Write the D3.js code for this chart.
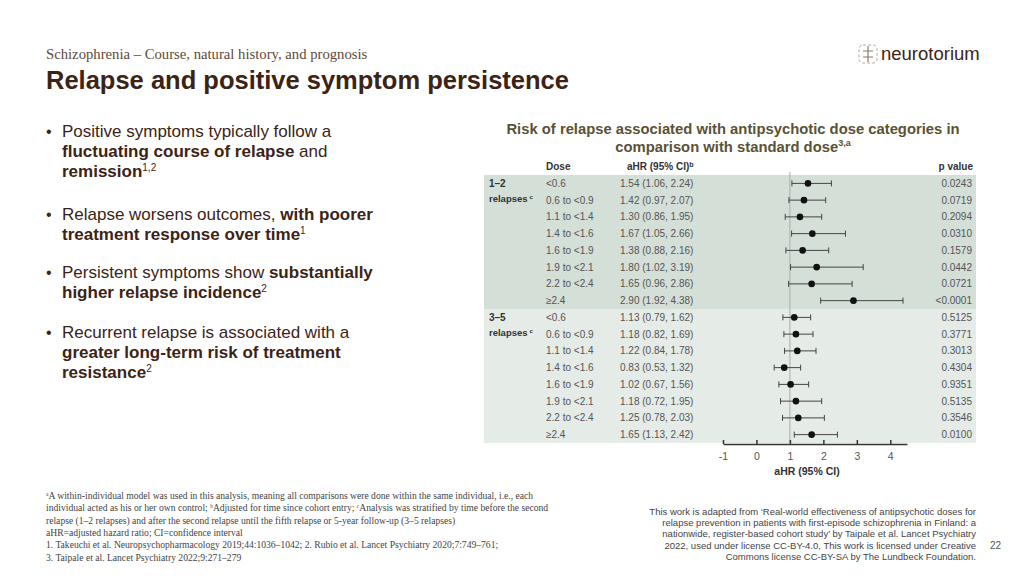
<!DOCTYPE html>
<html lang="en">
<head>
<meta charset="UTF-8">
<title>Relapse and positive symptom persistence</title>
<script src="https://d3js.org/d3.v7.min.js"></script>
<style>
  html, body { margin: 0; padding: 0; background: #fff; }
  body { width: 1024px; height: 576px; overflow: hidden; font-family: "Liberation Sans", Arial, sans-serif; }
  svg text { font-family: "Liberation Sans", Arial, sans-serif; }
  svg text.serif { font-family: "Liberation Serif", "Times New Roman", serif; }
</style>
</head>
<body>
<div id="slide"></div>
<script>
// dose categories (same for both strata)
const doses = ["<0.6", "0.6 to <0.9", "1.1 to <1.4", "1.4 to <1.6", "1.6 to <1.9", "1.9 to <2.1", "2.2 to <2.4", "\u22652.4"];
const groups = ["1\u20132", "3\u20135"];

// 1-2 relapses
const hr1 = [1.54, 1.42, 1.30, 1.67, 1.38, 1.80, 1.65, 2.90];
const lo1 = [1.06, 0.97, 0.86, 1.05, 0.88, 1.02, 0.96, 1.92];
const hi1 = [2.24, 2.07, 1.95, 2.66, 2.16, 3.19, 2.86, 4.38];
const p1 = ["0.0243", "0.0719", "0.2094", "0.0310", "0.1579", "0.0442", "0.0721", "<0.0001"];

// 3-5 relapses
const hr2 = [1.13, 1.18, 1.22, 0.83, 1.02, 1.18, 1.25, 1.65];
const lo2 = [0.79, 0.82, 0.84, 0.53, 0.67, 0.72, 0.78, 1.13];
const hi2 = [1.62, 1.69, 1.78, 1.32, 1.56, 1.95, 2.03, 2.42];
const p2 = ["0.5125", "0.3771", "0.3013", "0.4304", "0.9351", "0.5135", "0.3546", "0.0100"];

const xTicks = [-1, 0, 1, 2, 3, 4];

const rows = [];
[[hr1, lo1, hi1, p1], [hr2, lo2, hi2, p2]].forEach(([hr, lo, hi, p], g) => {
  doses.forEach((d, i) => rows.push({group: g, dose: d, hr: hr[i], lo: lo[i], hi: hi[i], p: p[i], id: g + "-" + i}));
});

const width = 1024, height = 576;
const svg = d3.select("#slide").append("svg")
  .attr("width", width).attr("height", height);

const brown = "#3b2416";

// header
svg.append("text").attr("class", "serif")
  .attr("x", 46).attr("y", 59)
  .attr("font-size", 14.7).attr("fill", "#5d4a3a")
  .text("Schizophrenia \u2013 Course, natural history, and prognosis");
svg.append("text")
  .attr("x", 46).attr("y", 89)
  .attr("font-size", 25.5).attr("font-weight", "bold").attr("fill", brown)
  .text("Relapse and positive symptom persistence");

// logo
const logo = svg.append("g").attr("transform", "translate(859,45)");
logo.append("rect").attr("x", 0).attr("y", 0).attr("width", 18).attr("height", 18).attr("rx", 4)
  .attr("fill", "none").attr("stroke", "#b9a99b").attr("stroke-width", 1).attr("stroke-dasharray", "3,2");
logo.append("path").attr("d", "M9 1 V17 M4 6 H14 M4 12 H14")
  .attr("stroke", "#8c7a6b").attr("stroke-width", 1.2).attr("fill", "none");
svg.append("text")
  .attr("x", 881).attr("y", 60)
  .attr("font-size", 18.5).attr("fill", brown)
  .text("neurotorium");

// bullets
const bullets = [
  [[["Positive symptoms typically follow a", false]], [["fluctuating course of relapse", true], [" and", false]], [["remission", true], ["1,2", false, true]]],
  [[["Relapse worsens outcomes, ", false], ["with poorer", true]], [["treatment response over time", true], ["1", false, true]]],
  [[["Persistent symptoms show ", false], ["substantially", true]], [["higher relapse incidence", true], ["2", false, true]]],
  [[["Recurrent relapse is associated with a", false]], [["greater long-term risk of treatment", true]], [["resistance", true], ["2", false, true]]]
];
const bulletY = [137, 220, 278, 338];
bullets.forEach((lines, b) => {
  svg.append("text").attr("x", 46).attr("y", bulletY[b])
    .attr("font-size", 16).attr("fill", brown).text("\u2022");
  lines.forEach((segs, l) => {
    const t = svg.append("text").attr("x", 62).attr("y", bulletY[b] + l * 20)
      .attr("font-size", 17).attr("fill", brown);
    segs.forEach(([s, bold, sup]) => {
      const ts = t.append("tspan").text(s).attr("font-weight", bold ? "bold" : "normal");
      if (sup) ts.attr("font-size", 10).attr("dy", -6);
    });
  });
});

// forest plot
const plotTop = 175, plotBottom = 443;
const y = d3.scaleBand().domain(rows.map(d => d.id)).range([plotTop, plotBottom]);
const x = d3.scaleLinear().domain([-1, 4.5]).range([723, 907]);
const bgColor = ["#d4dfd8", "#e5ebe7"];
const tableLeft = 484, tableRight = 976;

// chart title
const titleColor = "#5a5234";
svg.append("text").attr("x", 733).attr("y", 134)
  .attr("text-anchor", "middle").attr("font-size", 14.8).attr("font-weight", "bold").attr("fill", titleColor)
  .text("Risk of relapse associated with antipsychotic dose categories in");
const ct2 = svg.append("text").attr("x", 733).attr("y", 152)
  .attr("text-anchor", "middle").attr("font-size", 14.8).attr("font-weight", "bold").attr("fill", titleColor);
ct2.append("tspan").text("comparison with standard dose");
ct2.append("tspan").attr("font-size", 9).attr("dy", -6).text("3,a");

// group backgrounds
groups.forEach((g, gi) => {
  const ids = rows.filter(r => r.group === gi).map(r => r.id);
  svg.append("rect")
    .attr("x", tableLeft).attr("width", tableRight - tableLeft)
    .attr("y", y(ids[0])).attr("height", y(ids[ids.length - 1]) + y.bandwidth() - y(ids[0]))
    .attr("fill", bgColor[gi]);
  svg.append("text").attr("x", 489).attr("y", y(ids[0]) + y.bandwidth() / 2 + 4)
    .attr("font-size", 10).attr("font-weight", "bold").attr("fill", "#333").text(g);
  const rl = svg.append("text").attr("x", 489).attr("y", y(ids[1]) + y.bandwidth() / 2 + 2)
    .attr("font-size", 9.5).attr("font-weight", "bold").attr("fill", "#333").text("relapses");
  rl.append("tspan").attr("font-size", 6).attr("dy", -3).attr("dx", 2).text("c");
});

// column headers
const hdr = svg.append("g").attr("font-size", 10).attr("font-weight", "bold").attr("fill", "#333");
hdr.append("text").attr("x", 546).attr("y", 170).text("Dose");
const hh = hdr.append("text").attr("x", 627).attr("y", 170).text("aHR (95% CI)");
hh.append("tspan").attr("font-size", 7).attr("dy", -3).text("b");
hdr.append("text").attr("x", 973).attr("y", 170).attr("text-anchor", "end").text("p value");

// reference line at 1
svg.append("line")
  .attr("x1", x(1)).attr("x2", x(1)).attr("y1", 172).attr("y2", plotBottom)
  .attr("stroke", "#a9aeab").attr("stroke-width", 1);

// table text
const cy = d => y(d.id) + y.bandwidth() / 2;
const tbl = svg.append("g").attr("font-size", 10).attr("fill", "#555");
tbl.selectAll(".dose").data(rows).join("text")
  .attr("x", 546).attr("y", d => cy(d) + 3.5).text(d => d.dose);
tbl.selectAll(".hr").data(rows).join("text")
  .attr("x", 620).attr("y", d => cy(d) + 3.5)
  .text(d => `${d.hr.toFixed(2)} (${d.lo.toFixed(2)}, ${d.hi.toFixed(2)})`);
tbl.selectAll(".pv").data(rows).join("text")
  .attr("x", 972).attr("y", d => cy(d) + 3.5).attr("text-anchor", "end").text(d => d.p);

// error bars
const marks = svg.append("g").attr("stroke", "#444").attr("stroke-width", 1);
marks.selectAll(".ci").data(rows).join("line")
  .attr("x1", d => x(d.lo)).attr("x2", d => x(d.hi)).attr("y1", cy).attr("y2", cy);
marks.selectAll(".capl").data(rows).join("line")
  .attr("x1", d => x(d.lo)).attr("x2", d => x(d.lo)).attr("y1", d => cy(d) - 3).attr("y2", d => cy(d) + 3);
marks.selectAll(".caph").data(rows).join("line")
  .attr("x1", d => x(d.hi)).attr("x2", d => x(d.hi)).attr("y1", d => cy(d) - 3).attr("y2", d => cy(d) + 3);
svg.append("g").selectAll("circle").data(rows).join("circle")
  .attr("cx", d => x(d.hr)).attr("cy", cy).attr("r", 3.3).attr("fill", "#111");

// x axis
const ax = svg.append("g").attr("transform", `translate(0,${plotBottom + 1})`)
  .call(d3.axisBottom(x).tickValues(xTicks).tickFormat(d => String(d)).tickSize(4).tickSizeOuter(0).tickPadding(7));
ax.select(".domain").attr("stroke", "#333").attr("stroke-width", 1.5);
ax.selectAll(".tick line").attr("stroke", "#333").attr("stroke-width", 1.5).attr("y1", -4).attr("y2", 0);
ax.selectAll(".tick text").attr("font-size", 10.5).attr("fill", "#555").attr("dy", "0.5em");
svg.append("text").attr("x", 807).attr("y", 475).attr("text-anchor", "middle")
  .attr("font-size", 10.5).attr("font-weight", "bold").attr("fill", "#333").text("aHR (95% CI)");

// footnotes (segments: [text, isSuperscript])
const fnLines = [
  [["a", true], ["A within-individual model was used in this analysis, meaning all comparisons were done within the same individual, i.e., each"]],
  [["individual acted as his or her own control; "], ["b", true], ["Adjusted for time since cohort entry; "], ["c", true], ["Analysis was stratified by time before the second"]],
  [["relapse (1\u20132 relapses) and after the second relapse until the fifth relapse or 5-year follow-up (3\u20135 relapses)"]],
  [["aHR=adjusted hazard ratio; CI=confidence interval"]],
  [["1. Takeuchi et al. Neuropsychopharmacology 2019;44:1036\u20131042; 2. Rubio et al. Lancet Psychiatry 2020;7:749\u2013761;"]],
  [["3. Taipale et al. Lancet Psychiatry 2022;9:271\u2013279"]]
];
fnLines.forEach((segs, i) => {
  const t = svg.append("text").attr("class", "serif").attr("x", 46).attr("y", 499 + i * 12.3)
    .attr("font-size", 9.6).attr("fill", "#444");
  let raised = false;
  segs.forEach(([s, sup]) => {
    const ts = t.append("tspan").text(s);
    if (sup) { ts.attr("font-size", 5.5).attr("dy", raised ? 0 : -3); raised = true; }
    else { ts.attr("dy", raised ? 3 : 0); raised = false; }
  });
});

const credit = [
  "This work is adapted from \u2018Real-world effectiveness of antipsychotic doses for",
  "relapse prevention in patients with first-episode schizophrenia in Finland: a",
  "nationwide, register-based cohort study\u2019 by Taipale et al. Lancet Psychiatry",
  "2022, used under license CC-BY-4.0, This work is licensed under Creative",
  "Commons license CC-BY-SA by The Lundbeck Foundation."
];
credit.forEach((s, i) => {
  svg.append("text").attr("x", 976).attr("y", 515 + i * 11.2).attr("text-anchor", "end")
    .attr("font-size", 9.5).attr("fill", "#444").text(s);
});
svg.append("text").attr("x", 990).attr("y", 549).attr("font-size", 10).attr("fill", "#555").text("22");
</script>
</body>
</html>
